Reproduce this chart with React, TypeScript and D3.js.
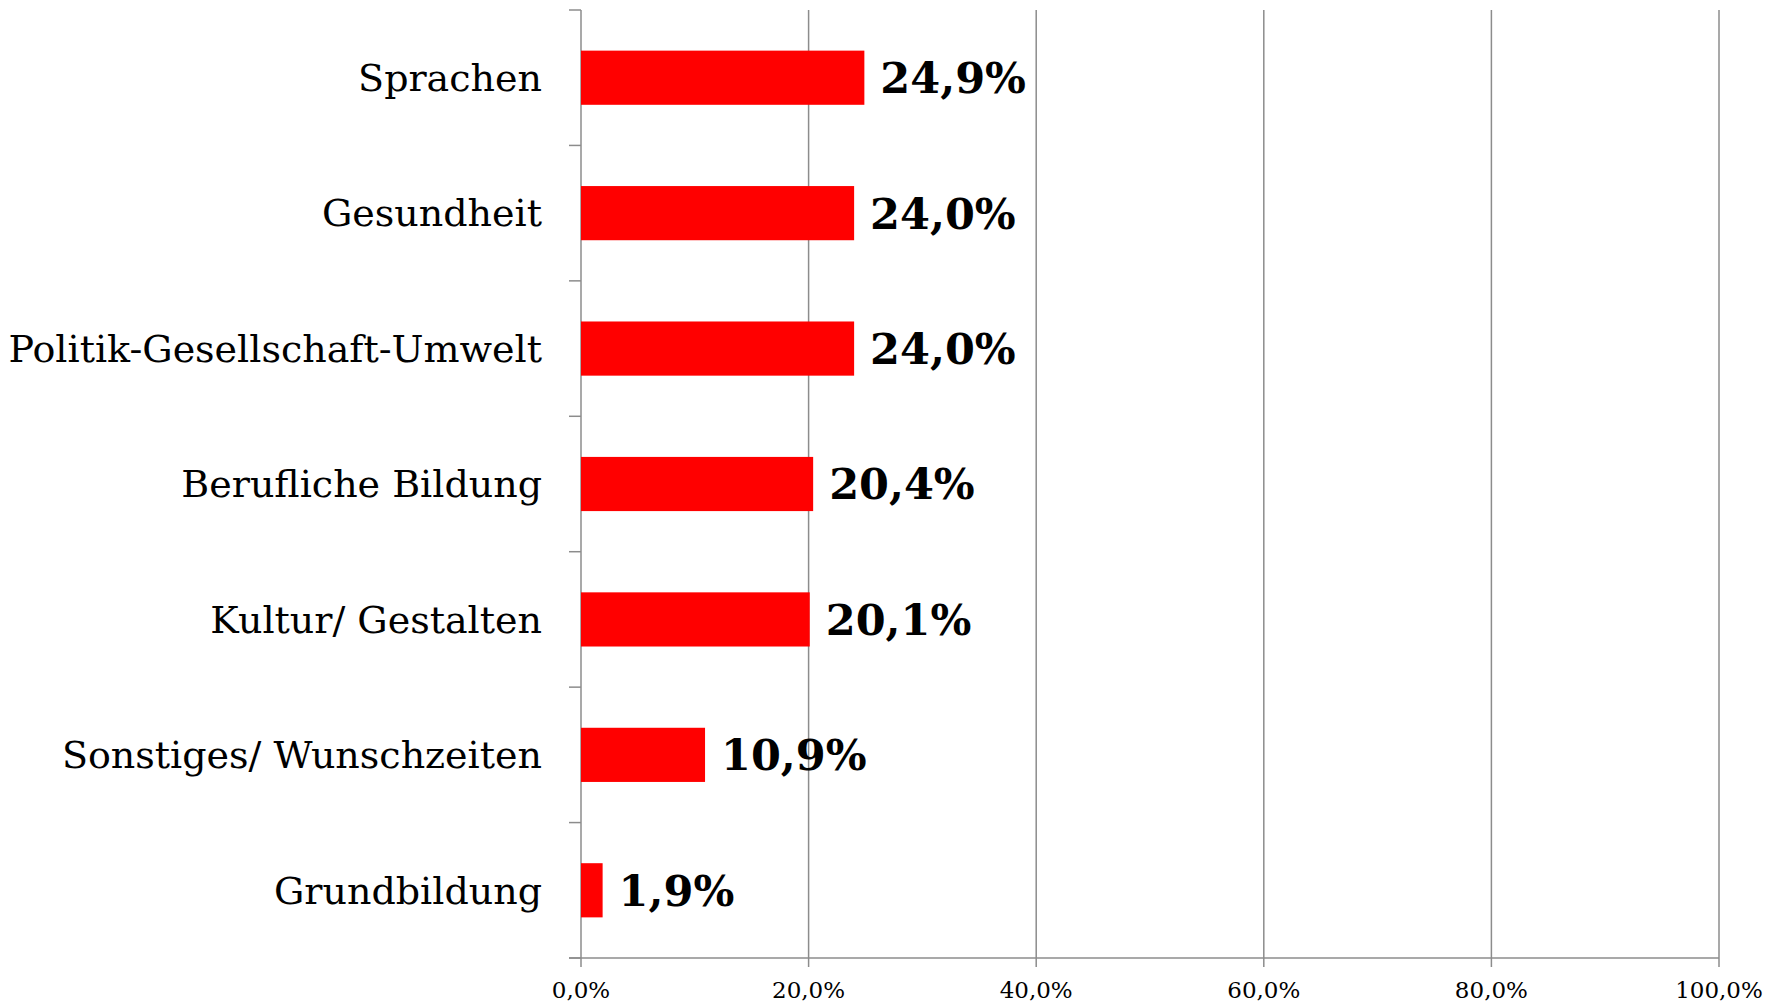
import React from "react";
import * as d3 from "d3";

const categories = [
  "Sprachen",
  "Gesundheit",
  "Politik-Gesellschaft-Umwelt",
  "Berufliche Bildung",
  "Kultur/ Gestalten",
  "Sonstiges/ Wunschzeiten",
  "Grundbildung",
];
const values = [24.9, 24.0, 24.0, 20.4, 20.1, 10.9, 1.9];
const xTicks = [0, 20, 40, 60, 80, 100];

const W = 1783;
const H = 1006;
const left = 581;
const right = 1719;
const top = 10;
const bottom = 958;

const fmt = (v: number) => v.toFixed(1).replace(".", ",") + "%";

export default function App() {
  const x = d3.scaleLinear().domain([0, 100]).range([left, right]);
  const y = d3
    .scaleBand<string>()
    .domain(categories)
    .range([top, bottom])
    .paddingInner(0.6)
    .paddingOuter(0.3);
  const step = (bottom - top) / categories.length;
  const boundaries = d3.range(categories.length + 1).map((i) => top + i * step);
  const axisColor = "#8c8c8c";

  return (
    <svg
      width={W}
      height={H}
      style={{ position: "absolute", left: 0, top: 0, background: "#fff" }}
    >
      {xTicks.map((t) => (
        <g key={t}>
          {t > 0 && (
            <line x1={x(t)} x2={x(t)} y1={top} y2={bottom} stroke={axisColor} strokeWidth={1.5} />
          )}
          <line x1={x(t)} x2={x(t)} y1={bottom} y2={bottom + 9} stroke={axisColor} strokeWidth={1.5} />
          <text
            x={x(t)}
            y={bottom + 40}
            textAnchor="middle"
            fontFamily="DejaVu Serif, serif"
            fontSize={23}
            fill="#000"
          >
            {fmt(t)}
          </text>
        </g>
      ))}
      <line x1={left - 12} x2={right} y1={bottom} y2={bottom} stroke={axisColor} strokeWidth={1.5} />
      <line x1={left} x2={left} y1={top} y2={bottom} stroke={axisColor} strokeWidth={1.5} />
      {boundaries.map((b, i) => (
        <line key={i} x1={left - 12} x2={left} y1={b} y2={b} stroke={axisColor} strokeWidth={1.5} />
      ))}
      {categories.map((c, i) => {
        const yy = y(c)!;
        const bh = y.bandwidth();
        const cy = yy + bh / 2;
        return (
          <g key={c}>
            <rect x={x(0)} y={yy} width={x(values[i]) - x(0)} height={bh} fill="#ff0000" />
            <text
              x={left - 39}
              y={cy}
              dy="0.35em"
              textAnchor="end"
              fontFamily="DejaVu Serif, serif"
              fontSize={38}
              fill="#000"
            >
              {c}
            </text>
            <text
              x={x(values[i]) + 16}
              y={cy}
              dy="0.36em"
              textAnchor="start"
              fontFamily="DejaVu Serif, serif"
              fontWeight="bold"
              fontSize={43}
              fill="#000"
            >
              {fmt(values[i])}
            </text>
          </g>
        );
      })}
    </svg>
  );
}
